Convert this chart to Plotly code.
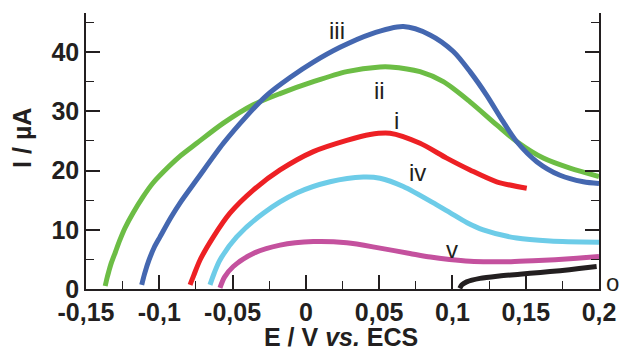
import plotly.graph_objects as go

# Series data (E in V vs. ECS, I in µA)
x_ii = [-0.1369, -0.1356, -0.1344, -0.133, -0.130, -0.127, -0.1234, -0.118, -0.111, -0.1043, -0.093, -0.086, -0.0745, -0.0563, -0.0359, -0.0176, 0.0051, 0.0279, 0.0506, 0.0574, 0.0779, 0.0938, 0.112, 0.1302, 0.1438, 0.162, 0.1802, 0.2]
y_ii = [0.5, 1.9, 3.0, 4.2, 6.2, 8.2, 10.3, 12.8, 15.6, 17.9, 20.8, 22.4, 24.6, 28.0, 31.1, 33.0, 35.0, 36.7, 37.5, 37.5, 36.7, 35.0, 31.6, 27.7, 24.9, 22.1, 20.4, 19.0]

x_iii = [-0.112, -0.110, -0.107, -0.1035, -0.0995, -0.092, -0.0859, -0.074, -0.0563, -0.0404, -0.0267, -0.0108, 0.0051, 0.0233, 0.0438, 0.0665, 0.0847, 0.1006, 0.112, 0.1234, 0.1347, 0.1438, 0.1575, 0.1734, 0.1893, 0.2]
y_iii = [0.7, 2.6, 4.9, 7.0, 8.8, 12.1, 14.5, 18.6, 24.6, 29.2, 32.7, 35.7, 38.3, 40.8, 43.0, 44.3, 42.9, 40.1, 36.7, 32.7, 28.2, 24.9, 21.5, 19.2, 18.1, 17.8]

x_i = [-0.079, -0.0765, -0.0722, -0.0631, -0.0518, -0.0359, -0.0176, 0.0051, 0.0279, 0.0438, 0.0574, 0.0779, 0.0961, 0.112, 0.1302, 0.1507]
y_i = [0.7, 2.3, 4.9, 8.8, 12.8, 16.7, 20.1, 23.2, 25.1, 26.1, 26.3, 24.6, 22.1, 20.1, 18.1, 17.0]

x_iv = [-0.0654, -0.0625, -0.0586, -0.0472, -0.029, -0.0063, 0.0165, 0.0392, 0.0506, 0.0665, 0.0893, 0.0983, 0.110, 0.121, 0.1438, 0.1666, 0.2]
y_iv = [0.7, 2.7, 4.9, 8.8, 12.8, 16.2, 18.1, 18.9, 18.7, 17.3, 14.2, 12.9, 11.2, 10.0, 8.6, 8.1, 7.9]

x_v = [-0.0586, -0.0555, -0.0495, -0.0359, -0.0176, 0.0051, 0.0279, 0.0506, 0.071, 0.085, 0.098, 0.112, 0.125, 0.14, 0.155, 0.17, 0.185, 0.2]
y_v = [0.2, 2.0, 3.8, 6.0, 7.4, 8.0, 7.8, 6.9, 6.0, 5.4, 5.0, 4.7, 4.6, 4.6, 4.75, 4.95, 5.2, 5.5]

x_o = [0.105, 0.1065, 0.1097, 0.1188, 0.132, 0.146, 0.16, 0.1734, 0.1864, 0.1984]
y_o = [0.1, 0.7, 1.2, 1.8, 2.2, 2.5, 2.8, 3.1, 3.45, 3.8]

series = [
    ("ii", x_ii, y_ii, "#6cbd45"),
    ("iii", x_iii, y_iii, "#4467b0"),
    ("i", x_i, y_i, "#ed2024"),
    ("iv", x_iv, y_iv, "#6dcce8"),
    ("v", x_v, y_v, "#c4519e"),
    ("o", x_o, y_o, "#231f20"),
]

# Curve labels inside the plot (text, E, I)
label_text = ["iii", "ii", "i", "iv", "v"]
label_x = [0.021, 0.050, 0.062, 0.076, 0.0997]
label_y = [43.7, 33.6, 28.5, 19.6, 6.6]

x_tickvals = [-0.15, -0.1, -0.05, 0, 0.05, 0.1, 0.15, 0.2]
x_ticktext = ["-0,15", "-0,1", "-0,05", "0", "0,05", "0,1", "0,15", "0,2"]
y_tickvals = [0, 10, 20, 30, 40]

FONT = "Liberation Sans, Arial, Helvetica, sans-serif"
INK = "#231f20"
TSIZE = 25

fig = go.Figure()
for name, xs, ys, col in series:
    fig.add_trace(go.Scatter(
        x=xs, y=ys, mode="lines", name=name,
        line=dict(color=col, width=5, shape="spline", smoothing=0.8),
        cliponaxis=False, showlegend=False,
    ))

for t, lx, ly in zip(label_text, label_x, label_y):
    fig.add_annotation(x=lx, y=ly, text=t, showarrow=False,
                       font=dict(family=FONT, size=24, color=INK),
                       xanchor="center", yanchor="middle")
# label of the "o" curve, just outside the right axis
fig.add_annotation(xref="paper", yref="paper", x=1.027, y=0.022, text="o", showarrow=False,
                   font=dict(family=FONT, size=24, color=INK), xanchor="center", yanchor="middle")

# axis titles
fig.add_annotation(xref="paper", yref="paper", x=0.497, y=-0.174, text="E / V <i>vs.</i> ECS",
                   showarrow=False, xanchor="center", yanchor="middle",
                   font=dict(family=FONT, size=TSIZE, color=INK, weight="bold"))
fig.add_annotation(xref="paper", yref="paper", x=-0.125, y=0.547, text="I / µA", textangle=-90,
                   showarrow=False, xanchor="center", yanchor="middle",
                   font=dict(family=FONT, size=TSIZE, color=INK, weight="bold"))

fig.update_layout(
    width=620, height=350,
    margin=dict(l=86, r=21, t=13, b=61),
    paper_bgcolor="white", plot_bgcolor="white",
    font=dict(family=FONT, color=INK),
)
fig.update_xaxes(
    range=[-0.15, 0.2], tickvals=x_tickvals, ticktext=x_ticktext, automargin=False,
    showgrid=False, zeroline=False, showline=True, linecolor=INK, linewidth=1.5,
    ticks="inside", ticklen=14, tickwidth=1.5, tickcolor=INK,
    minor=dict(dtick=0.025, tick0=0, ticks="inside", ticklen=8, tickwidth=1.2, tickcolor=INK, showgrid=False),
    tickfont=dict(family=FONT, size=TSIZE, color=INK, weight="bold"),
)
fig.update_yaxes(
    range=[0, 46.6], tickvals=y_tickvals, automargin=False,
    showgrid=False, zeroline=False, showline=True, linecolor=INK, linewidth=1.5, mirror="ticks",
    ticks="inside", ticklen=14, tickwidth=1.5, tickcolor=INK,
    minor=dict(dtick=5, tick0=0, ticks="inside", ticklen=8, tickwidth=1.2, tickcolor=INK, showgrid=False),
    tickfont=dict(family=FONT, size=TSIZE, color=INK, weight="bold"),
)

# remove the browser's default page margin so the figure sits at the window origin
fig.write_html("out.html", config={"displayModeBar": False},
               post_script="document.body.style.margin='0';document.body.style.overflow='hidden';")
